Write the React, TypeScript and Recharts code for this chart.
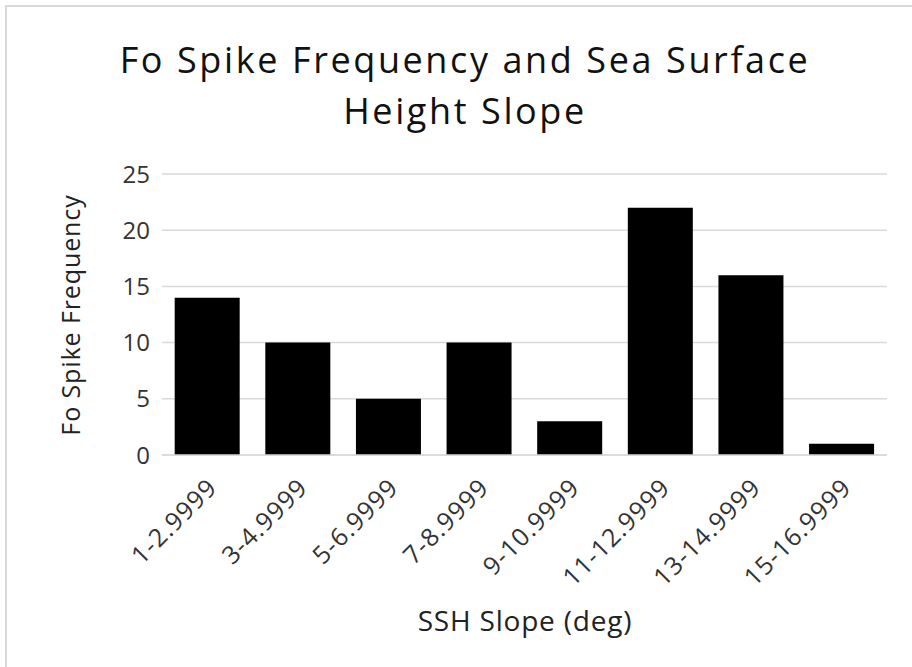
import React from "react";
import { Bar, BarChart, CartesianGrid, XAxis, YAxis } from "recharts";

const slopeBins = [
  "1-2.9999",
  "3-4.9999",
  "5-6.9999",
  "7-8.9999",
  "9-10.9999",
  "11-12.9999",
  "13-14.9999",
  "15-16.9999",
];
const spikeCounts = [14, 10, 5, 10, 3, 22, 16, 1];
const yTicks = [0, 5, 10, 15, 20, 25];

const data = slopeBins.map((bin, i) => ({ bin, count: spikeCounts[i] }));

const FONT = "'Open Sans', Lato, sans-serif";

function SlantTick(props: any) {
  const { x, y, payload } = props;
  return (
    <g transform={`translate(${x + 5},${y + 20})`}>
      <text
        textAnchor="end"
        transform="rotate(-45)"
        dy="0.35em"
        fill="#333"
        fontSize={25}
        fontFamily={FONT}
        letterSpacing={1}
      >
        {payload.value}
      </text>
    </g>
  );
}

export default function App() {
  return (
    <div
      style={{
        position: "absolute",
        left: 0,
        top: 0,
        width: 912,
        height: 667,
        background: "#fff",
        fontFamily: FONT,
      }}
    >
      <div
        style={{
          position: "absolute",
          left: 5,
          top: 5,
          right: 0,
          bottom: 0,
          borderLeft: "2px solid #d9d9d9",
          borderTop: "2px solid #d9d9d9",
        }}
      />
      <div
        style={{
          position: "absolute",
          left: 0,
          top: 34,
          width: 930,
          textAlign: "center",
          fontSize: 36,
          letterSpacing: 2.6,
          lineHeight: "51px",
          color: "#111",
        }}
      >
        Fo Spike Frequency and Sea Surface
        <br />
        Height Slope
      </div>
      <BarChart
        width={912}
        height={667}
        data={data}
        margin={{ top: 174, right: 25, bottom: 0, left: 0 }}
        barCategoryGap="14%"
      >
        <CartesianGrid vertical={false} stroke="#d9d9d9" strokeWidth={1.5} />
        <XAxis
          dataKey="bin"
          height={212}
          interval={0}
          tickLine={false}
          axisLine={{ stroke: "#d9d9d9", strokeWidth: 1.5 }}
          tick={<SlantTick />}
        />
        <YAxis
          width={162}
          domain={[0, 25]}
          ticks={yTicks}
          axisLine={false}
          tickLine={false}
          tickMargin={6}
          tick={{ fill: "#333", fontSize: 24, fontFamily: FONT }}
        />
        <Bar dataKey="count" fill="#000" isAnimationActive={false} />
      </BarChart>
      <div
        style={{
          position: "absolute",
          left: 70,
          top: 315,
          transform: "translate(-50%, -50%) rotate(-90deg)",
          whiteSpace: "nowrap",
          fontSize: 25,
          letterSpacing: 0.9,
          color: "#222",
        }}
      >
        Fo Spike Frequency
      </div>
      <div
        style={{
          position: "absolute",
          left: 525,
          top: 620,
          transform: "translate(-50%, -50%)",
          whiteSpace: "nowrap",
          fontSize: 28,
          letterSpacing: 0.8,
          color: "#222",
        }}
      >
        SSH Slope (deg)
      </div>
    </div>
  );
}
